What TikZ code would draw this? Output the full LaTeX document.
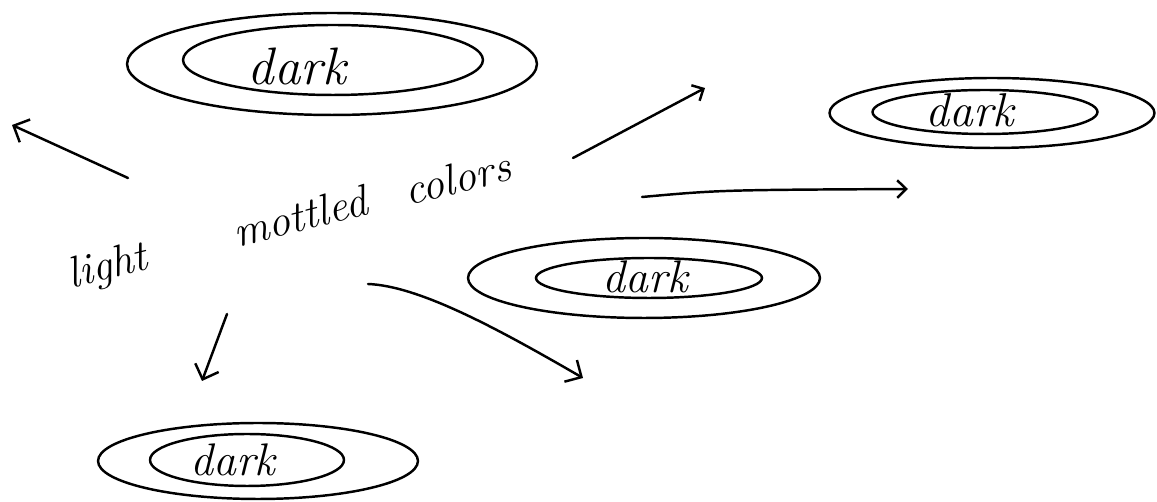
\documentclass[tikz,border=0pt]{standalone}
\usepackage{tikz}
\usetikzlibrary{positioning,arrows.meta,shapes.geometric}

\begin{document}
\begin{tikzpicture}[
    x=0.02cm, y=-0.02cm,
    ring/.style={draw, ellipse, line width=1.4pt, inner sep=0pt},
    word/.style={font=\fontsize{#1}{#1}\selectfont\itshape, inner sep=0pt},
    word/.default=26,
    phrase/.style={font=\fontsize{25}{28}\selectfont\itshape, rotate=14, inner sep=0pt},
    arrow/.style={-{Straight Barb[length=2.5mm, width=5mm]}, line width=1.4pt, line cap=round},
    small arrow/.style={arrow, -{Straight Barb[length=1.8mm, width=3.5mm]}}
]
\useasboundingbox (0,0) rectangle (1157,502);

% Top-left rings
\node[ring, minimum width=8.2cm, minimum height=2.04cm] (outerNW) at (332,64) {};
\node[ring, minimum width=6.0cm, minimum height=1.4cm] (innerNW) at (333,60) {};
\node[word=30] (darkNW) at (297,66) {dark};

% Top-right rings
\node[ring, minimum width=6.5cm, minimum height=1.4cm] (outerNE) at (992,113) {};
\node[ring, minimum width=4.5cm, minimum height=0.88cm] (innerNE) at (985,112) {};
\node[word=27] (darkNE) at (970,110) {dark};

% Middle rings
\node[ring, minimum width=7.04cm, minimum height=1.6cm] (outerC) at (644,278) {};
\node[ring, minimum width=4.52cm, minimum height=0.8cm] (innerC) at (649,278) {};
\node[word] (darkC) at (645,277) {dark};

% Bottom rings
\node[ring, minimum width=6.4cm, minimum height=1.52cm] (outerS) at (258,461) {};
\node[ring, minimum width=3.88cm, minimum height=1.04cm] (innerS) at (247,460) {};
\node[word] (darkS) at (233,460) {dark};

% Centre text
\node[phrase] (light) at (108,268) {light};
\node[phrase] (mottled) at (300,216) {mottled};
\node[phrase] (colors) at (457,178) {colors};

% Arrow ends
\coordinate (tailW) at (128,178);   \coordinate (tipW) at (12,125);
\coordinate (tailNE) at (573,158);  \coordinate (tipNE) at (705,88);
\coordinate (tailE) at (642,197);   \coordinate (tipE) at (908,189);
\coordinate (tailS) at (227,314);   \coordinate (tipS) at (202,381);
\coordinate (tailSE) at (368,284);  \coordinate (tipSE) at (583,378);

\draw[arrow] (tailW) -- (tipW);
\draw[small arrow] (tailNE) -- (tipNE);
\draw[small arrow] (tailE) .. controls (720,190) .. (tipE);
\draw[arrow] (tailS) -- (tipS);
\draw[arrow] (tailSE) .. controls (420,286) and (500,330) .. (tipSE);
\end{tikzpicture}
\end{document}
